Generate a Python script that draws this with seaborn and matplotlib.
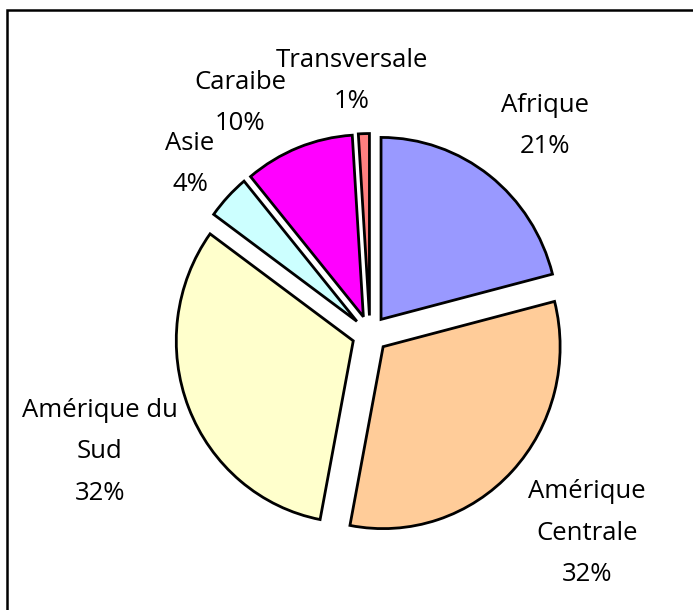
import matplotlib
matplotlib.use("Agg")
import matplotlib.pyplot as plt
import seaborn as sns
from matplotlib.patches import Rectangle

sns.set_style("white")
plt.rcParams['font.family'] = ['Open Sans', 'DejaVu Sans']

# données
categories = ["Afrique", "Amérique Centrale", "Amérique du Sud", "Asie", "Caraibe", "Transversale"]
valeurs = [21, 32, 32, 4, 10, 1]
etiquettes = ["Afrique\n21%", "Amérique\nCentrale\n32%", "Amérique du\nSud\n32%", "Asie\n4%", "Caraibe\n10%", "Transversale\n1%"]
couleurs = ["#9999FF", "#FFCC99", "#FFFFCC", "#CCFFFF", "#FF00FF", "#FF8080"]

# positions des étiquettes (pixels)
pos_etiquettes = [(545, 126), (587, 533), (100, 452), (190, 164), (240, 103), (352, 81)]

# le camembert est un peu étiré verticalement
sy = 1.028

fig = plt.figure(figsize=(6.93, 6.10), dpi=100)
ax = fig.add_axes([0, 0, 1, 1])
ax.axis("off")

ax.pie(valeurs, colors=couleurs, startangle=90, counterclock=False,
       explode=[18] * len(valeurs), radius=177, center=(370, (610 - 334) / sy),
       wedgeprops=dict(edgecolor="black", linewidth=2))

for txt, (x, y) in zip(etiquettes, pos_etiquettes):
    ax.text(x, (610 - y) / sy, txt, ha="center", va="center", fontsize=18.5,
            linespacing=1.85, color="black")

ax.set_aspect("auto")
ax.set_xlim(0, 693)
ax.set_ylim(0, 610 / sy)

# cadre
fig.add_artist(Rectangle((7 / 693, -0.05), 1.0, 1.05 - 10 / 610, transform=fig.transFigure,
                         fill=False, edgecolor="black", linewidth=1.8))

fig.savefig("out.png", dpi=100)
